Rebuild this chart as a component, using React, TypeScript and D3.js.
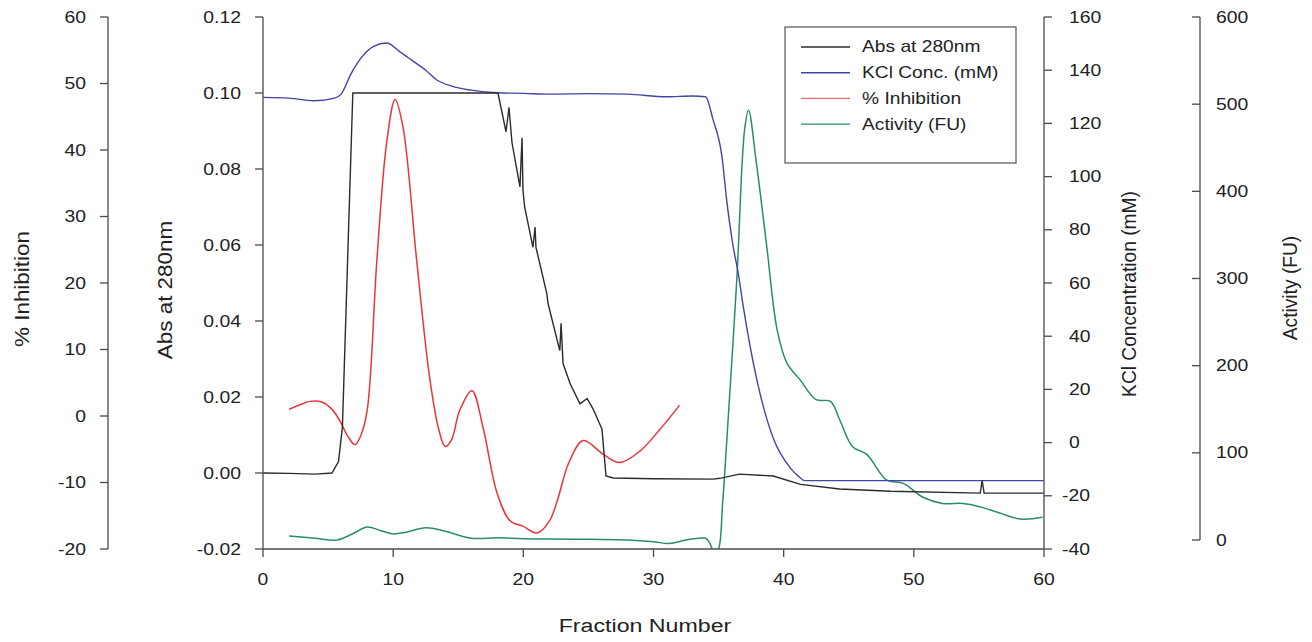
import React from "react";
import * as d3 from "d3";

// ---------- data ----------
const absFrac = [0, 2, 4, 5.3, 5.8, 6.1, 6.5, 6.9, 10, 15, 18.05, 18.67, 18.9, 19.13, 19.74, 19.9, 19.97, 20.1, 20.74, 20.9, 20.97, 21.8, 21.9, 22.8, 22.9, 23.05, 23.6, 24.35, 24.9, 25.35, 26.04, 26.35, 26.9, 30, 34.6, 35.1, 36.6, 39.2, 41.3, 44.3, 48.2, 55.1, 55.25, 55.4, 60];
const absVal = [0, -0.0001, -0.0003, 0, 0.003, 0.012, 0.056, 0.1, 0.1, 0.1, 0.1, 0.0898, 0.0962, 0.0869, 0.0753, 0.0882, 0.0745, 0.07, 0.0594, 0.0647, 0.0594, 0.0473, 0.0446, 0.0322, 0.0394, 0.0288, 0.0235, 0.0182, 0.0196, 0.0169, 0.0116, -0.0008, -0.0013, -0.0015, -0.0016, -0.0014, -0.0003, -0.0008, -0.003, -0.0042, -0.0048, -0.0053, -0.002, -0.0053, -0.0053];

const kclFrac = [0, 2, 3.9, 5.5, 6, 6.8, 7.6, 8.5, 9.5, 10.5, 11.5, 12.5, 13.3, 14.5, 16, 18, 20, 22, 25, 28, 31, 33, 34, 34.57, 35.26, 35.65, 36.11, 36.5, 36.87, 37.95, 39.18, 40.49, 41.1, 41.64, 60];
const kclVal = [129.8, 129.5, 128.5, 129.5, 131, 139, 145, 149, 150.2, 147, 143.5, 140, 136.5, 134, 132.5, 131.5, 131.3, 131, 131.2, 131, 130, 130.3, 130, 121.5, 107.5, 90, 74, 64, 52, 23.4, 1.9, -9.4, -12.5, -14.3, -14.3];

const inhFrac = [2, 3, 3.6, 4.5, 5.3, 5.9, 6.5, 7.07, 7.5, 8.0, 8.75, 9.5, 10.15, 10.75, 11.8, 12.8, 13.5, 14.0, 14.5, 15.1, 16.05, 16.9, 18, 19, 20, 21.05, 22, 22.6, 23.5, 24.6, 26.1, 27.4, 29, 30.5, 32];
const inhVal = [1, 1.8, 2.2, 2.1, 1, -0.7, -3, -4.3, -3, 0.8, 23.5, 41.1, 47.6, 43.5, 23.5, 5.8, -2, -4.6, -3.5, 0.8, 3.8, -1.7, -11.7, -15.8, -16.6, -17.6, -15.8, -12.8, -7, -3.7, -5.7, -7, -5.2, -2, 1.6];

const actFrac = [2, 4, 5.7, 7, 8, 9, 10, 11, 12.5, 14, 16, 18, 20, 24, 28, 30, 31.2, 32.5, 33.5, 34, 34.3, 34.7, 35.0, 35.3, 35.6, 36.4, 37.0, 37.3, 37.9, 38.7, 39.5, 40.25, 41.25, 42.5, 43.6, 44.3, 45.3, 46.4, 47.9, 49.2, 50.7, 52.2, 53.8, 55.1, 56.6, 58.2, 59.9];
const actVal = [4.6, 2, 0, 8, 15, 11, 7, 9, 14, 10, 2, 2.5, 1.5, 1, 0, -2, -4, 0, 2, 2, -3, -15, -10, 40, 107, 299, 471, 493, 433, 337, 241, 203, 184, 161, 159, 138, 107, 98, 69, 65, 49, 42, 42, 38, 31, 24, 26];

const xTicks = [0, 10, 20, 30, 40, 50, 60];
const absTicks = [-0.02, 0, 0.02, 0.04, 0.06, 0.08, 0.1, 0.12];
const inhTicks = [-20, -10, 0, 10, 20, 30, 40, 50, 60];
const kclTicks = [-40, -20, 0, 20, 40, 60, 80, 100, 120, 140, 160];
const actTicks = [0, 100, 200, 300, 400, 500, 600];

const legendItems = ["Abs at 280nm", "KCl Conc. (mM)", "% Inhibition", "Activity (FU)"];

// ---------- layout ----------
const W = 1312, H = 642;
const L = 263, R = 1044, T = 17, B = 549;
const FONT = "'Liberation Sans', Arial, Helvetica, sans-serif";
const AX = "#4a4a4a";
const TXT = "#222";
const C_ABS = "#2b2b2b";
const C_KCL = "#4343a8";
const C_INH = "#e8353c";
const C_ACT = "#2a8c6c";
const SX = 1.14;

const x = d3.scaleLinear().domain([0, 60]).range([L, R]);
const yAbs = d3.scaleLinear().domain([-0.02, 0.12]).range([B, T]);
const yInh = d3.scaleLinear().domain([-20, 60]).range([B, T]);
const yKcl = d3.scaleLinear().domain([-40, 160]).range([B, T]);
const yAct = d3.scaleLinear().domain([0, 600]).range([540, T]);

function pts(fr: number[], v: number[]) {
  return fr.map((f, i) => [f, v[i]] as [number, number]);
}

function HText(props: { x: number; y: number; anchor?: string; size?: number; sx?: number; children: any }) {
  const { x: px, y: py, anchor = "middle", size = 17, sx = SX } = props;
  return (
    <text
      transform={`translate(${px},${py}) scale(${sx},1)`}
      textAnchor={anchor as any}
      dominantBaseline="central"
      fontFamily={FONT}
      fontSize={size}
      fill={TXT}
    >
      {props.children}
    </text>
  );
}

function VText(props: { x: number; y: number; size: number; sy: number; children: any }) {
  return (
    <text
      transform={`translate(${props.x},${props.y}) scale(1,${props.sy}) rotate(-90)`}
      textAnchor="middle"
      dominantBaseline="central"
      fontFamily={FONT}
      fontSize={props.size}
      fill={TXT}
    >
      {props.children}
    </text>
  );
}

export default function App() {
  const lineAbs = d3.line<[number, number]>().x((d) => x(d[0])).y((d) => yAbs(d[1]));
  const lineKcl = d3.line<[number, number]>().x((d) => x(d[0])).y((d) => yKcl(d[1])).curve(d3.curveMonotoneX);
  const lineInh = d3.line<[number, number]>().x((d) => x(d[0])).y((d) => yInh(d[1])).curve(d3.curveCatmullRom.alpha(0.5));
  const lineAct = d3.line<[number, number]>().x((d) => x(d[0])).y((d) => yAct(d[1])).curve(d3.curveCatmullRom.alpha(0.5));

  const inhX = 108;
  const actX = 1200;

  return (
    <svg width={W} height={H} style={{ position: "absolute", left: 0, top: 0, background: "#fff" }}>
      <rect x={0} y={0} width={W} height={H} fill="#fff" />
      <defs>
        <clipPath id="plot">
          <rect x={L} y={T} width={R - L} height={B - T} />
        </clipPath>
      </defs>

      {/* curves */}
      <g clipPath="url(#plot)" fill="none">
        <path d={lineAct(pts(actFrac, actVal)) || ""} stroke={C_ACT} strokeWidth={1.5} />
        <path d={lineInh(pts(inhFrac, inhVal)) || ""} stroke={C_INH} strokeWidth={1.5} />
        <path d={lineKcl(pts(kclFrac, kclVal)) || ""} stroke={C_KCL} strokeWidth={1.4} />
        <path d={lineAbs(pts(absFrac, absVal)) || ""} stroke={C_ABS} strokeWidth={1.4} />
      </g>

      {/* x axis */}
      <line x1={L} x2={R} y1={B} y2={B} stroke={AX} strokeWidth={1.3} />
      {xTicks.map((t) => (
        <g key={"x" + t}>
          <line x1={x(t)} x2={x(t)} y1={B} y2={B + 8} stroke={AX} strokeWidth={1.3} />
          <HText x={x(t)} y={579}>{String(t)}</HText>
        </g>
      ))}
      <HText x={645} y={625} size={19} sx={1.22}>Fraction Number</HText>

      {/* Abs axis */}
      <line x1={L} x2={L} y1={T} y2={B} stroke={AX} strokeWidth={1.3} />
      {absTicks.map((t) => (
        <g key={"a" + t}>
          <line x1={L - 8} x2={L} y1={yAbs(t)} y2={yAbs(t)} stroke={AX} strokeWidth={1.3} />
          <HText x={241} y={yAbs(t)} anchor="end">{t.toFixed(2)}</HText>
        </g>
      ))}
      <VText x={165} y={290} size={21} sy={1.07}>Abs at 280nm</VText>

      {/* % Inhibition axis */}
      <line x1={inhX} x2={inhX} y1={T} y2={B} stroke={AX} strokeWidth={1.3} />
      {inhTicks.map((t) => (
        <g key={"i" + t}>
          <line x1={inhX - 8} x2={inhX} y1={yInh(t)} y2={yInh(t)} stroke={AX} strokeWidth={1.3} />
          <HText x={86} y={yInh(t)} anchor="end">{String(t)}</HText>
        </g>
      ))}
      <VText x={22} y={289} size={21} sy={1.07}>% Inhibition</VText>

      {/* KCl axis */}
      <line x1={R} x2={R} y1={T} y2={B} stroke={AX} strokeWidth={1.3} />
      {kclTicks.map((t) => (
        <g key={"k" + t}>
          <line x1={R} x2={R + 8} y1={yKcl(t)} y2={yKcl(t)} stroke={AX} strokeWidth={1.3} />
          <HText x={t < 0 ? 1062 : 1069} y={yKcl(t)} anchor="start">{String(t)}</HText>
        </g>
      ))}
      <VText x={1129} y={294} size={20} sy={0.96}>KCl Concentration (mM)</VText>

      {/* Activity axis */}
      <line x1={actX} x2={actX} y1={T} y2={540} stroke={AX} strokeWidth={1.3} />
      {actTicks.map((t) => (
        <g key={"c" + t}>
          <line x1={actX - 8} x2={actX} y1={yAct(t)} y2={yAct(t)} stroke={AX} strokeWidth={1.3} />
          <HText x={1216} y={yAct(t)} anchor="start">{String(t)}</HText>
        </g>
      ))}
      <VText x={1290} y={288} size={20} sy={0.96}>Activity (FU)</VText>

      {/* legend */}
      <rect x={785} y={27} width={231} height={136} fill="#fff" stroke="#555" strokeWidth={1.2} />
      {legendItems.map((name, i) => {
        const yy = 47 + i * 25.7;
        const col = [C_ABS, C_KCL, C_INH, C_ACT][i];
        return (
          <g key={name}>
            <line x1={801} x2={850} y1={yy} y2={yy} stroke={col} strokeWidth={1.4} opacity={i === 2 ? 0.7 : 1} />
            <HText x={862} y={yy} anchor="start" size={16} sx={1.2}>{name}</HText>
          </g>
        );
      })}
    </svg>
  );
}
